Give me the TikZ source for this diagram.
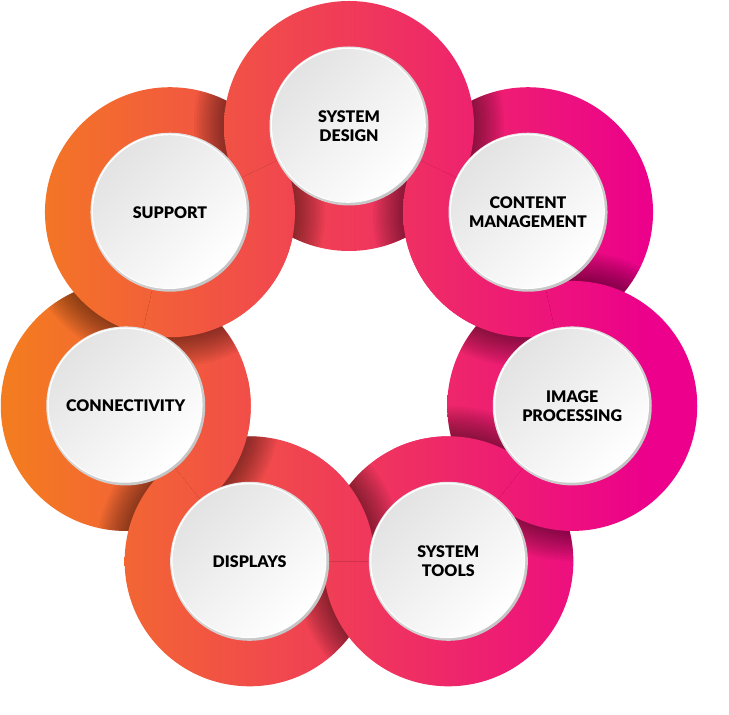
\documentclass[tikz,border=0pt]{standalone}
\usepackage{fontspec}
\setmainfont{Lato}[BoldFont={Lato Black}]
\usetikzlibrary{calc}

\definecolor{ringorange}{HTML}{F47C20}
\definecolor{ringred}{HTML}{EF4A4E}
\definecolor{ringpink}{HTML}{EC008C}
\definecolor{rimgray}{HTML}{C4C4C4}
\definecolor{rimlight}{HTML}{E8E8E8}
\definecolor{facegray}{HTML}{E3E3E3}

% one coloured disk, cut out of the horizontal colour run
\newcommand{\ringdisk}[1]{%
  \begin{scope}
    \clip (c#1) circle (125);
    \fill[ringorange] (-10,0) rectangle (10,715);
    \shade[left color=ringorange, middle color=ringred, right color=ringpink] (10,0) rectangle (650,715);
    \fill[ringpink] (650,0) rectangle (740,715);
  \end{scope}}

% shadow of ring #1 falling on ring #2
\newcommand{\ringshadow}[2]{%
  \begin{scope}
    \clip (c#2) circle (125);
    \foreach \k in {1,...,12} { \fill[black, opacity=.04] (c#1) circle ({125+2.5*\k}); }
  \end{scope}}

% outer crossing: #1 lies on #2
\newcommand{\outershadow}[2]{%
  \begin{scope}
    \clip (c#1) -- (c#2) -- ($(O)!3!(c#2)$) -- ($(O)!3!(c#1)$) -- cycle;
    \ringshadow{#1}{#2}
  \end{scope}}

\begin{document}
\begin{tikzpicture}[x=1pt, y=1pt,
    lbl/.style={align=center, text=black, font=\bfseries\fontsize{16}{19}\selectfont}]
    \useasboundingbox (0,0) rectangle (729,715);

    \coordinate (O) at (349,360);
    \foreach \i in {0,...,6} { \coordinate (c\i) at ($(O)+({90-\i*360/7}:229)$); }

    % rings, outer crossings
    \ringdisk{1}
    \ringdisk{5}
    \outershadow{4}{5} \ringdisk{4}
    \outershadow{3}{4} \ringdisk{3}
    \outershadow{2}{3} \outershadow{2}{1} \ringdisk{2}
    \outershadow{6}{5} \ringdisk{6}
    \outershadow{0}{1} \outershadow{0}{6} \ringdisk{0}

    % inner crossings
    \foreach \a/\b in {1/0,1/2,3/2,4/3,5/4,6/5,6/0} {
        \begin{scope}
            \clip (O) -- (c\a) -- (c\b) -- cycle;
            \ringshadow{\a}{\b}
            \ringdisk{\a}
        \end{scope}
    }

    % white faces
    \foreach \i/\name/\txt in {0/sysdesign/{SYSTEM\\DESIGN}, 1/content/{CONTENT\\MANAGEMENT},
        2/imaging/{IMAGE\\PROCESSING}, 3/systools/{SYSTEM\\TOOLS}, 4/displays/{DISPLAYS},
        5/connect/{CONNECTIVITY}, 6/support/{SUPPORT}} {
        \shade[top color=rimlight, bottom color=rimgray, shading angle=45] (c\i) circle (79.5);
        \fill[white] ($(c\i)+(-0.8,0.8)$) circle (77.6);
        \shade[top color=facegray, bottom color=white, shading angle=45] ($(c\i)+(-0.6,0.6)$) circle (76.4);
        \node[lbl] (\name) at (c\i) {\txt};
    }
\end{tikzpicture}
\end{document}
